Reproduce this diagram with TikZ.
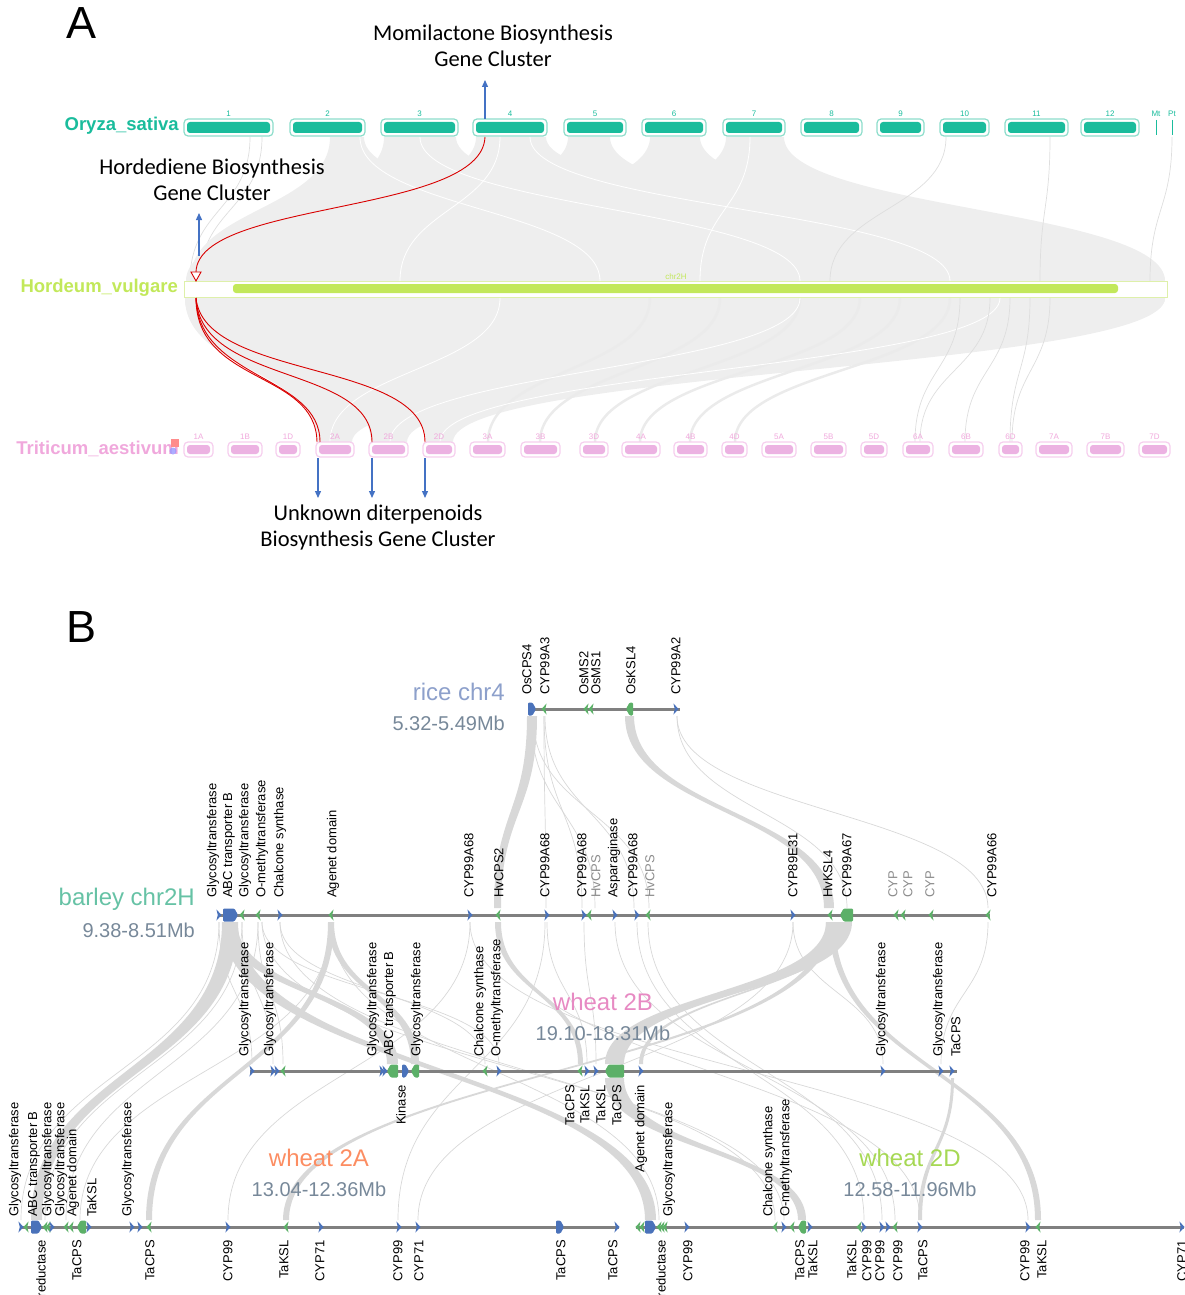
\documentclass[tikz,border=0pt]{standalone}
\usepackage{fontspec}
\setmainfont{Liberation Sans}
\newfontfamily\carl{Carlito}
\usetikzlibrary{arrows.meta}
\definecolor{gblue}{RGB}{74,114,186}
\definecolor{ggreen}{RGB}{92,176,104}
\definecolor{trk}{RGB}{128,128,128}
\definecolor{rng}{RGB}{119,136,153}
\definecolor{sricec}{HTML}{8DA0CB}
\definecolor{sbar}{HTML}{66C2A5}
\definecolor{stwob}{HTML}{E78AC3}
\definecolor{stwoa}{HTML}{FC8D62}
\definecolor{stwod}{HTML}{A6D854}
\definecolor{ory}{RGB}{26,188,156}
\definecolor{oryl}{RGB}{140,221,203}
\definecolor{hor}{RGB}{194,232,90}
\definecolor{horl}{RGB}{222,240,170}
\definecolor{tri}{RGB}{236,178,226}
\definecolor{tril}{RGB}{246,206,238}
\definecolor{trit}{RGB}{240,168,220}
\definecolor{arr}{RGB}{68,114,196}
\definecolor{synA}{RGB}{238,238,238}
\definecolor{synB}{RGB}{216,216,216}
\tikzset{
 glab/.style={font=\fontsize{13}{15}\selectfont, inner sep=0pt, text=black},
 glabg/.style={glab, text=black!45},
 trkline/.style={draw=trk, line width=3},
 synl/.style={draw=synB, line width=0.7},
 synla/.style={draw=black!13, line width=0.7},
 synlb/.style={draw=black!8, line width=2.5},
 synlw/.style={draw=white, line width=0.8},
 bluearr/.style={draw=arr, line width=1.3, -{Triangle[length=7,width=6]}},
 redl/.style={draw=red!85!black, line width=0.9},
 ann/.style={font=\carl\fontsize{22.5}{26}\selectfont, align=center, inner sep=0pt},
 sp/.style={font=\bfseries\fontsize{18.5}{20}\selectfont, inner sep=0pt, anchor=east},
 chrlab/.style={font=\fontsize{8}{9}\selectfont, inner sep=0pt},
 trname/.style={font=\fontsize{24}{26}\selectfont, inner sep=0pt},
 trrng/.style={font=\fontsize{20}{22}\selectfont, inner sep=0pt, text=rng},
}
\newcounter{lbn}
\newcommand\labU[3]{\stepcounter{lbn}\node[glab,rotate=90,anchor=west] (lu\arabic{lbn}) at (#1,#2) {#3};}
\newcommand\labUg[3]{\stepcounter{lbn}\node[glabg,rotate=90,anchor=west] (lg\arabic{lbn}) at (#1,#2) {#3};}
\newcommand\labD[3]{\stepcounter{lbn}\node[glab,rotate=90,anchor=east] (ld\arabic{lbn}) at (#1,#2) {#3};}
\newcommand\gnR[1]{\fill[gblue] (#1-2.6,\tyy-5.5) -- (#1+2.6,\tyy) -- (#1-2.6,\tyy+5.5) -- (#1-1.2,\tyy) -- cycle;}
\newcommand\gnL[1]{\fill[ggreen] (#1+2.6,\tyy-5.5) -- (#1-2.6,\tyy) -- (#1+2.6,\tyy+5.5) -- (#1+1.2,\tyy) -- cycle;}
\newcommand\blkR[2]{\fill[gblue,rounded corners=1.2] (#1,\tyy-6.5) -- (#2-3.5,\tyy-6.5) -- (#2,\tyy) -- (#2-3.5,\tyy+6.5) -- (#1,\tyy+6.5) -- cycle;}
\newcommand\blkL[2]{\fill[ggreen,rounded corners=1.2] (#2,\tyy-6.5) -- (#1+3.5,\tyy-6.5) -- (#1,\tyy) -- (#1+3.5,\tyy+6.5) -- (#2,\tyy+6.5) -- cycle;}
\newcommand\rib[7]{\fill[#1] (#2,#4) .. controls (#2,{(#4+#7)/2}) and (#5,{(#4+#7)/2}) .. (#5,#7) -- (#6,#7) .. controls (#6,{(#4+#7)/2}) and (#3,{(#4+#7)/2}) .. (#3,#4) -- cycle;}
\newcommand\lnk[5]{\draw[#1] (#2,#3) .. controls (#2,{(#3+#5)/2}) and (#4,{(#3+#5)/2}) .. (#4,#5);}
\begin{document}
\begin{tikzpicture}[x=1pt,y=-1pt]
\useasboundingbox (0,0) rectangle (1184,1295);
% ================= PANEL A =================
\node[font=\fontsize{45}{50}\selectfont, inner sep=0pt] (pA) at (82,23) {A};
% synteny rice -> barley
\lnk{synla}{250}{137}{190}{281}
\lnk{synla}{262}{137}{200}{281}
\rib{fill=synA}{330}{364}{137}{190}{760}{281}
\rib{fill=synA}{384}{456}{137}{195}{950}{281}
\rib{fill=synA}{476}{546}{137}{186}{1165}{281}
\rib{fill=synA}{568}{610}{137}{260}{1000}{281}
\rib{fill=synA}{650}{700}{137}{350}{1100}{281}
\rib{fill=synA}{726}{784}{137}{450}{1165}{281}
\lnk{synlw}{360}{137}{600}{281}
\lnk{synlw}{420}{137}{800}{281}
\lnk{synlw}{500}{137}{400}{281}
\lnk{synlw}{530}{137}{950}{281}
\lnk{synlw}{750}{137}{700}{281}
\lnk{synla}{946}{137}{830}{281}
\lnk{synla}{1050}{137}{1040}{281}
\lnk{synla}{1172}{137}{1150}{281}
% synteny barley -> wheat
\rib{fill=synA}{185}{1165}{298}{318}{352}{442}
\rib{fill=synA}{185}{1165}{298}{371}{407}{442}
\rib{fill=synA}{185}{1165}{298}{426}{453}{442}
\lnk{synlb}{650}{298}{488}{442}
\lnk{synlb}{720}{298}{540}{442}
\lnk{synlb}{800}{298}{595}{442}
\lnk{synlb}{860}{298}{640}{442}
\lnk{synlb}{900}{298}{690}{442}
\lnk{synlb}{950}{298}{735}{442}
\lnk{synlw}{500}{298}{330}{442}
\lnk{synlw}{800}{298}{390}{442}
\lnk{synlw}{1000}{298}{440}{442}
\lnk{synla}{960}{298}{915}{442}
\lnk{synla}{990}{298}{920}{442}
\lnk{synla}{1010}{298}{965}{442}
\lnk{synla}{1030}{298}{1010}{442}
\lnk{synla}{1050}{298}{1012}{442}
% rice chromosomes
\foreach \a/\b/\n in {184/273/1,290/365/2,381/458/3,473/547/4,564/626/5,642/706/6,723/785/7,801/862/8,877/924/9,940/989/10,1005/1068/11,1081/1139/12}{
 \draw[oryl,line width=1.2,fill=white,rounded corners=4] (\a,119) rectangle (\b,136);
 \fill[ory,rounded corners=3] (\a+3,122) rectangle (\b-3,133);
 \node[chrlab,text=ory] (oc\n) at ({(\a+\b)/2},114) {\n};
}
\draw[ory,line width=1] (1156,120) -- (1156,135);
\draw[ory,line width=1] (1172,120) -- (1172,135);
\node[chrlab,text=ory] (ocMt) at (1156,114) {Mt};
\node[chrlab,text=ory] (ocPt) at (1172,114) {Pt};
\node[sp,text=ory] (oryza) at (179,126) {Oryza\_sativa};
% barley chromosome
\draw[horl,line width=1,fill=white] (184,281) rectangle (1167,297);
\fill[hor,rounded corners=3] (233,284) rectangle (1118,293);
\node[chrlab,text=hor] (hc) at (676,277) {chr2H};
\node[sp,text=hor] (hordeum) at (178,288) {Hordeum\_vulgare};
% wheat chromosomes
\foreach \a/\b/\n in {184/213/1A,228/262/1B,276/300/1D,316/354/2A,369/408/2B,423/455/2D,470/505/3A,521/560/3B,580/608/3D,622/660/4A,674/707/4B,722/747/4D,762/796/5A,811/846/5B,861/887/5D,903/933/6A,949/983/6B,999/1022/6D,1036/1072/7A,1087/1124/7B,1139/1170/7D}{
 \draw[tril,line width=1.2,fill=white,rounded corners=4] (\a,442) rectangle (\b,457);
 \fill[tri,rounded corners=3] (\a+3,445) rectangle (\b-3,454);
 \node[chrlab,text=trit] (wc\n) at ({(\a+\b)/2},437) {\n};
}
\node[sp,text=trit] (triticum) at (179,449) {Triticum\_aestivum};
\fill[red!45] (171,439) rectangle (179,447);
\fill[blue!40,opacity=0.8] (173,451) circle (3.5);
% red links
\draw[redl] (485,137) .. controls (482,215) and (198,200) .. (196,272);
\draw[red!85!black,line width=0.9,fill=white] (191,272) -- (201,272) -- (196,281) -- cycle;
\draw[redl] (196,298) .. controls (196,385) and (316,370) .. (317,442);
\draw[redl] (196,298) .. controls (198,380) and (320,375) .. (320,442);
\draw[redl] (196,298) .. controls (200,385) and (372,365) .. (372,442);
\draw[redl] (196,298) .. controls (204,380) and (425,360) .. (425,442);
% annotation arrows and texts
\coordinate (c4) at (485,119);
\coordinate (c4t) at (485,80);
\draw[bluearr] (c4) -- (c4t);
\node[ann] (momi) at (493,46) {Momilactone Biosynthesis\\Gene Cluster};
\coordinate (hb) at (199,256);
\coordinate (hbt) at (199,213);
\draw[bluearr] (hb) -- (hbt);
\node[ann] (horde) at (212,180) {Hordediene Biosynthesis\\Gene Cluster};
\foreach \x/\n in {318/a,372/b,425/d}{
 \coordinate (w\n) at (\x,458);
 \coordinate (w\n e) at (\x,498);
 \draw[bluearr] (w\n) -- (w\n e);
}
\node[ann] (unk) at (378,527) {Unknown diterpenoids\\Biosynthesis Gene Cluster};
% ================= PANEL B =================
\node[font=\fontsize{45}{50}\selectfont, inner sep=0pt] (pB) at (82,627) {B};
% rice -> barley
\rib{fill=synB}{527}{537}{716}{494}{501}{908}
\rib{fill=synB}{625}{634}{716}{824}{834}{908}
\lnk{synl}{531}{716}{595}{908}
\lnk{synl}{533}{716}{649}{908}
\lnk{synl}{544}{716}{546}{908}
\lnk{synl}{544}{716}{582}{908}
\lnk{synl}{545}{716}{634}{908}
\lnk{synl}{677}{716}{847}{908}
\lnk{synl}{677}{716}{988}{908}
% barley -> 2B
\rib{fill=synB}{223}{237}{922}{387}{398}{1064}
\rib{fill=synB}{328}{334}{922}{411}{419}{1064}
\rib{fill=synB}{495}{501}{922}{578}{583}{1064}
\rib{fill=synB}{826}{852}{922}{605}{624}{1064}
\rib{fill=synB}{840}{846}{922}{639}{643}{1064}
\lnk{synl}{219}{922}{252}{1064}
\lnk{synl}{242}{922}{273}{1064}
\lnk{synl}{258}{922}{283}{1064}
\lnk{synl}{280}{922}{485}{1064}
\lnk{synl}{262}{922}{499}{1064}
\lnk{synl}{547}{922}{587}{1064}
\lnk{synl}{584}{922}{596}{1064}
\lnk{synl}{793}{922}{883}{1064}
\lnk{synl}{988}{922}{941}{1064}
% barley -> 2A
\rib{fill=synB}{222}{238}{922}{31}{42}{1220}
\rib{fill=synB}{328}{334}{922}{146}{152}{1220}
\rib{fill=synB}{826}{833}{922}{283}{289}{1220}
\lnk{synl}{219}{922}{21}{1220}
\lnk{synl}{242}{922}{45}{1220}
\lnk{synl}{258}{922}{66}{1220}
\lnk{synl}{331}{922}{80}{1220}
\lnk{synl}{470}{922}{228}{1220}
\lnk{synl}{545}{922}{398}{1220}
\lnk{synl}{793}{922}{418}{1220}
% barley -> 2D
\rib{fill=synB}{222}{238}{922}{645}{656}{1220}
\rib{fill=synB}{829}{835}{922}{1035}{1041}{1220}
\lnk{synl}{498}{922}{920}{1220}
\lnk{synl}{637}{922}{864}{1220}
\lnk{synl}{648}{922}{882}{1220}
\lnk{synl}{615}{922}{895}{1220}
\lnk{synl}{280}{922}{775}{1220}
\lnk{synl}{262}{922}{784}{1220}
\lnk{synl}{331}{922}{659}{1220}
\lnk{synl}{470}{922}{1028}{1220}
% 2B -> 2D
\rib{fill=synB}{605}{624}{1078}{798}{806}{1220}
\rib{fill=synB}{951}{954}{1078}{918}{922}{1220}
% ---- rice chr4 track
\node[trname,text=sricec,anchor=east] (ricen) at (505,692) {rice chr4};
\node[trrng,anchor=east] (ricer) at (505,723) {5.32-5.49Mb};
\def\tyy{709}
\draw[trkline] (529,709) -- (680,709);
\blkR{528}{536} \gnL{544} \gnL{586} \gnL{591} \blkL{626}{633} \gnR{676}
\labU{527}{695}{OsCPS4} \labU{545}{695}{CYP99A3} \labU{584}{695}{OsMS2} \labU{596}{695}{OsMS1} \labU{631}{695}{OsKSL4} \labU{676}{695}{CYP99A2}
% ---- barley chr2H track
\node[trname,text=sbar,anchor=east] (barn) at (195,899) {barley chr2H};
\node[trrng,anchor=east] (barr) at (195,930) {9.38-8.51Mb};
\def\tyy{915}
\draw[trkline] (218,915) -- (990,915);
\gnR{219} \blkR{223}{238} \gnL{242} \gnL{258} \gnR{280} \gnL{331} \gnR{470} \gnL{498} \gnR{547} \gnR{584} \gnL{589} \gnR{615} \gnR{637} \gnL{648} \gnR{793} \gnL{830} \blkL{840}{853} \gnL{896} \gnL{903} \gnL{931} \gnL{988}
\labU{213}{898}{Glycosyltransferase} \labU{229}{898}{ABC transporter B} \labU{245}{898}{Glycosyltransferase} \labU{262}{898}{O-methyltransferase} \labU{280}{898}{Chalcone synthase} \labU{333}{898}{Agenet domain}
\labU{469}{898}{CYP99A68} \labU{499}{898}{HvCPS2} \labU{545}{898}{CYP99A68} \labU{582}{898}{CYP99A68} \labUg{596}{898}{HvCPS} \labU{614}{898}{Asparaginase} \labU{633}{898}{CYP99A68} \labUg{650}{898}{HvCPS}
\labU{793}{898}{CYP89E31} \labU{828}{898}{HvKSL4} \labU{847}{898}{CYP99A67} \labUg{893}{898}{CYP} \labUg{908}{898}{CYP} \labUg{930}{898}{CYP} \labU{992}{898}{CYP99A66}
% ---- wheat 2B track
\node[trname,text=stwob] (t2bn) at (603,1002) {wheat 2B};
\node[trrng] (t2br) at (603,1033) {19.10-18.31Mb};
\def\tyy{1071}
\draw[trkline] (250,1071) -- (957,1071);
\gnR{252} \gnR{273} \gnR{277} \gnL{283} \gnR{382} \gnR{385} \blkL{387}{398} \blkR{402}{409} \blkL{411}{419} \gnL{485} \gnR{499} \gnL{580} \gnR{587} \gnR{596} \blkL{605}{624} \gnR{641} \gnR{883} \gnR{941} \gnR{952}
\labU{245}{1057}{Glycosyltransferase} \labU{270}{1057}{Glycosyltransferase} \labU{373}{1057}{Glycosyltransferase} \labU{390}{1057}{ABC transporter B} \labU{417}{1057}{Glycosyltransferase} \labU{480}{1057}{Chalcone synthase} \labU{497}{1057}{O-methyltransferase} \labU{882}{1057}{Glycosyltransferase} \labU{939}{1057}{Glycosyltransferase} \labU{956}{1057}{TaCPS}
\labD{401}{1085}{Kinase} \labD{570}{1085}{TaCPS} \labD{585}{1085}{TaKSL} \labD{601}{1085}{TaKSL} \labD{617}{1085}{TaCPS} \labD{641}{1085}{Agenet domain}
% ---- wheat 2A and 2D track
\node[trname,text=stwoa] (t2an) at (319,1158) {wheat 2A};
\node[trrng] (t2ar) at (319,1189) {13.04-12.36Mb};
\node[trname,text=stwod] (t2dn) at (910,1158) {wheat 2D};
\node[trrng] (t2dr) at (910,1189) {12.58-11.96Mb};
\def\tyy{1227}
\draw[trkline] (20,1227) -- (619,1227);
\draw[trkline] (636,1227) -- (1184,1227);
\gnR{21} \gnL{26} \blkR{31}{42} \gnL{45} \gnL{48} \gnR{52} \gnL{66} \gnL{71} \blkL{77}{86} \gnR{89} \gnR{132} \gnR{140} \gnL{149} \gnR{228} \gnL{286} \gnR{321} \gnR{399} \gnR{418} \blkR{556}{564} \gnR{617}
\gnL{638} \gnL{642} \blkR{645}{656} \gnL{659} \gnL{662} \gnL{665} \gnR{687} \gnL{775} \gnR{784} \gnL{792} \blkL{798}{806} \gnR{810} \gnL{859} \gnR{864} \gnR{882} \gnR{888} \gnL{895} \gnR{920} \gnR{1028} \gnL{1038} \gnR{1182}
\labU{15}{1217}{Glycosyltransferase} \labU{34}{1217}{ABC transporter B} \labU{48}{1217}{Glycosyltransferase} \labU{61}{1217}{Glycosyltransferase} \labU{73}{1217}{Agenet domain} \labU{92}{1217}{TaKSL} \labU{128}{1217}{Glycosyltransferase}
\labU{669}{1217}{Glycosyltransferase} \labU{769}{1217}{Chalcone synthase} \labU{786}{1217}{O-methyltransferase}
\labD{41}{1240}{reductase} \labD{77}{1240}{TaCPS} \labD{150}{1240}{TaCPS} \labD{228}{1240}{CYP99} \labD{284}{1240}{TaKSL} \labD{320}{1240}{CYP71} \labD{398}{1240}{CYP99} \labD{419}{1240}{CYP71} \labD{561}{1240}{TaCPS} \labD{613}{1240}{TaCPS}
\labD{661}{1240}{reductase} \labD{688}{1240}{CYP99} \labD{800}{1240}{TaCPS} \labD{813}{1240}{TaKSL} \labD{852}{1240}{TaKSL} \labD{867}{1240}{CYP99} \labD{880}{1240}{CYP99} \labD{898}{1240}{CYP99} \labD{923}{1240}{TaCPS} \labD{1025}{1240}{CYP99} \labD{1042}{1240}{TaKSL} \labD{1182}{1240}{CYP71}
\end{tikzpicture}
\end{document}
